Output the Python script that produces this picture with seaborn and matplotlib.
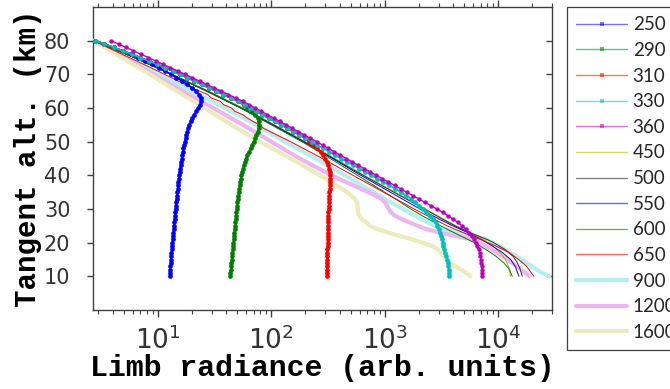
import numpy as np
import pandas as pd
import matplotlib
matplotlib.use("Agg")
import matplotlib.pyplot as plt
from matplotlib.lines import Line2D
from matplotlib.ticker import FixedLocator, LogLocator, NullFormatter
import seaborn as sns

# ---------------------------------------------------------------------------
# Data: log10 of limb radiance (arb. units) versus tangent altitude (km)
# ---------------------------------------------------------------------------

# UV channels are sampled every km from 80 km down to 10 km
alt_fine = list(range(80, 9, -1))

log_250 = [0.45, 0.53, 0.61, 0.69, 0.76, 0.83, 0.89, 0.95, 1.01, 1.065,
           1.115, 1.165, 1.215, 1.26, 1.305, 1.34, 1.365, 1.378, 1.38, 1.372,
           1.355, 1.338, 1.322, 1.305, 1.29, 1.277, 1.268, 1.26, 1.252, 1.245,
           1.238, 1.232, 1.226, 1.221, 1.216, 1.211, 1.206, 1.202, 1.197, 1.193,
           1.189, 1.185, 1.181, 1.178, 1.175, 1.172, 1.169, 1.166, 1.163, 1.16,
           1.157, 1.154, 1.151, 1.148, 1.145, 1.142, 1.139, 1.136, 1.133, 1.131,
           1.128, 1.126, 1.123, 1.121, 1.118, 1.116, 1.114, 1.112, 1.11, 1.108,
           1.106]

log_290 = [0.45, 0.53, 0.61, 0.69, 0.77, 0.845, 0.92, 0.995, 1.065, 1.13,
           1.195, 1.259, 1.323, 1.386, 1.45, 1.514, 1.578, 1.641, 1.705, 1.759,
           1.79, 1.83, 1.86, 1.88, 1.888, 1.89, 1.888, 1.88, 1.87, 1.858,
           1.845, 1.832, 1.818, 1.803, 1.789, 1.777, 1.767, 1.758, 1.75, 1.743,
           1.737, 1.731, 1.726, 1.721, 1.717, 1.713, 1.709, 1.705, 1.702, 1.699,
           1.696, 1.693, 1.69, 1.687, 1.684, 1.681, 1.678, 1.675, 1.672, 1.669,
           1.666, 1.663, 1.66, 1.657, 1.654, 1.651, 1.648, 1.645, 1.642, 1.639,
           1.636]

log_310 = [0.45, 0.53, 0.61, 0.69, 0.77, 0.845, 0.92, 0.995, 1.065, 1.13,
           1.195, 1.259, 1.323, 1.386, 1.45, 1.514, 1.578, 1.641, 1.705, 1.759,
           1.814, 1.868, 1.922, 1.976, 2.031, 2.085, 2.139, 2.193, 2.247, 2.301,
           2.33, 2.37, 2.405, 2.435, 2.46, 2.478, 2.492, 2.503, 2.511, 2.516,
           2.519, 2.52, 2.519, 2.517, 2.515, 2.513, 2.511, 2.509, 2.507, 2.506,
           2.505, 2.504, 2.503, 2.502, 2.501, 2.5, 2.499, 2.498, 2.497, 2.497,
           2.496, 2.496, 2.495, 2.495, 2.494, 2.494, 2.493, 2.493, 2.492, 2.492,
           2.491]

log_330 = [0.45, 0.53, 0.61, 0.69, 0.77, 0.845, 0.92, 0.995, 1.065, 1.13,
           1.195, 1.259, 1.323, 1.386, 1.45, 1.514, 1.578, 1.641, 1.705, 1.759,
           1.814, 1.868, 1.922, 1.976, 2.031, 2.085, 2.139, 2.193, 2.247, 2.301,
           2.355, 2.407, 2.459, 2.511, 2.563, 2.615, 2.668, 2.722, 2.775, 2.828,
           2.882, 2.935, 2.988, 3.042, 3.095, 3.145, 3.19, 3.232, 3.27, 3.305,
           3.337, 3.367, 3.397, 3.425, 3.448, 3.465, 3.478, 3.488, 3.496, 3.503,
           3.51, 3.516, 3.522, 3.53, 3.539, 3.549, 3.556, 3.562, 3.566, 3.569,
           3.571]

log_360 = [0.59, 0.655, 0.72, 0.785, 0.85, 0.915, 0.98, 1.045, 1.11, 1.175,
           1.24, 1.304, 1.368, 1.431, 1.495, 1.559, 1.623, 1.686, 1.75, 1.804,
           1.859, 1.913, 1.967, 2.021, 2.076, 2.13, 2.184, 2.238, 2.292, 2.346,
           2.40, 2.452, 2.504, 2.556, 2.608, 2.66, 2.713, 2.767, 2.82, 2.873,
           2.927, 2.98, 3.033, 3.087, 3.14, 3.193, 3.247, 3.30, 3.353, 3.407,
           3.46, 3.51, 3.558, 3.603, 3.645, 3.682, 3.714, 3.742, 3.766, 3.786,
           3.803, 3.817, 3.828, 3.837, 3.844, 3.849, 3.853, 3.856, 3.858, 3.859,
           3.86]

# visible / near-IR channels, sampled more coarsely
alt_450 = [80, 75, 70, 65, 60, 55, 50, 45, 40, 35, 30, 27, 25, 23, 21, 19, 17, 15, 13, 10]
log_450 = [0.44, 0.80, 1.13, 1.45, 1.75, 2.03, 2.30, 2.56, 2.82, 3.09, 3.36, 3.52,
           3.63, 3.75, 3.87, 3.95, 4.02, 4.065, 4.09, 4.11]

alt_500 = [80, 75, 70, 65, 60, 55, 50, 45, 40, 35, 30, 27, 25, 23, 21, 20, 18, 16, 14, 12, 10]
log_500 = [0.43, 0.79, 1.12, 1.44, 1.74, 2.02, 2.29, 2.55, 2.81, 3.08, 3.35, 3.51,
           3.62, 3.75, 3.90, 3.96, 4.06, 4.13, 4.17, 4.195, 4.213]

alt_550 = [80, 75, 70, 65, 60, 55, 50, 45, 40, 35, 30, 27, 25, 23, 21, 19, 17, 15, 13, 10]
log_550 = [0.44, 0.79, 1.12, 1.43, 1.73, 2.01, 2.28, 2.54, 2.79, 3.05, 3.31, 3.48,
           3.60, 3.73, 3.85, 3.95, 4.04, 4.11, 4.15, 4.183]

alt_600 = [80, 75, 70, 65, 60, 55, 50, 45, 40, 35, 32, 30, 28, 26, 24, 22, 20, 18, 16, 14, 12, 10]
log_600 = [0.44, 0.79, 1.12, 1.43, 1.73, 2.0, 2.27, 2.52, 2.76, 3.0, 3.14, 3.23,
           3.33, 3.44, 3.55, 3.67, 3.79, 3.89, 3.98, 4.05, 4.10, 4.124]

alt_650 = [80, 77, 74, 71, 68, 66, 64, 63, 62, 61, 60, 59, 58, 57, 56, 55, 54, 52,
           50, 45, 40, 35, 30, 25, 23, 21, 19, 17, 15, 13, 10]
log_650 = [0.43, 0.62, 0.81, 1.00, 1.18, 1.30, 1.44, 1.47, 1.55, 1.58, 1.65, 1.68,
           1.75, 1.79, 1.84, 1.90, 1.93, 2.05, 2.17, 2.45, 2.72, 2.99, 3.26, 3.55,
           3.69, 3.84, 3.98, 4.10, 4.18, 4.25, 4.315]

alt_900 = [80, 75, 70, 65, 60, 55, 50, 45, 40, 35, 30, 28, 26, 25, 24, 23, 22, 21,
           20, 18, 16, 14, 12, 11, 10]
log_900 = [0.43, 0.72, 1.01, 1.30, 1.59, 1.87, 2.12, 2.39, 2.65, 2.90, 3.16, 3.27,
           3.38, 3.44, 3.52, 3.64, 3.78, 3.89, 3.95, 4.06, 4.16, 4.25, 4.34, 4.39, 4.45]

alt_1200 = [80, 75, 70, 65, 60, 55, 50, 45, 40, 38, 36, 34, 33, 32, 31, 30, 29, 28,
            27, 26, 25, 24, 23, 22, 21, 20, 19, 18, 17, 15, 13, 11, 10]
log_1200 = [0.44, 0.70, 0.96, 1.22, 1.49, 1.75, 2.0, 2.25, 2.53, 2.66, 2.79, 2.92,
            2.97, 3.0, 3.02, 3.035, 3.055, 3.09, 3.15, 3.22, 3.29, 3.37, 3.49, 3.62,
            3.77, 3.84, 3.89, 3.94, 3.99, 4.08, 4.165, 4.24, 4.275]

alt_1600 = [80, 75, 70, 65, 60, 55, 50, 45, 40, 35, 33, 32, 31, 30, 29, 28, 27, 26,
            25, 24, 23, 22, 21, 20, 19, 18, 17, 16, 15, 14, 13, 12, 11, 10]
log_1600 = [0.44, 0.68, 0.93, 1.17, 1.41, 1.65, 1.90, 2.17, 2.43, 2.67, 2.74, 2.755,
            2.76, 2.765, 2.765, 2.775, 2.80, 2.84, 2.87, 2.94, 3.03, 3.13, 3.24, 3.33,
            3.42, 3.47, 3.495, 3.515, 3.54, 3.58, 3.62, 3.67, 3.72, 3.756]

wavelengths = ["250", "290", "310", "330", "360", "450", "500", "550",
               "600", "650", "900", "1200", "1600"]

y_ticks = [10, 20, 30, 40, 50, 60, 70, 80]
x_ticks = [10, 100, 1000, 10000]
x_tick_labels = [r"$\mathregular{10^{1}}$", r"$\mathregular{10^{2}}$",
                 r"$\mathregular{10^{3}}$", r"$\mathregular{10^{4}}$"]

# ---------------------------------------------------------------------------
# Styling of each channel
# ---------------------------------------------------------------------------
series = {
    "250": (alt_fine, log_250, dict(color="#0000ff", lw=1.2, marker="o", ms=3.4)),
    "290": (alt_fine, log_290, dict(color="#008000", lw=1.2, marker="o", ms=3.4)),
    "310": (alt_fine, log_310, dict(color="#ff0000", lw=1.2, marker="o", ms=3.4)),
    "330": (alt_fine, log_330, dict(color="#00bfbf", lw=1.2, marker="o", ms=3.4)),
    "360": (alt_fine, log_360, dict(color="#bf00bf", lw=1.0, marker="o", ms=3.2)),
    "450": (alt_450, log_450, dict(color="#bfbf00", lw=0.8)),
    "500": (alt_500, log_500, dict(color="#303030", lw=0.7)),
    "550": (alt_550, log_550, dict(color="#0000ff", lw=0.7)),
    "600": (alt_600, log_600, dict(color="#008000", lw=0.7)),
    "650": (alt_650, log_650, dict(color="#ff0000", lw=0.7)),
    "900": (alt_900, log_900, dict(color="#b4eeee", lw=3.0)),
    "1200": (alt_1200, log_1200, dict(color="#eeb6ee", lw=3.0)),
    "1600": (alt_1600, log_1600, dict(color="#ecebbc", lw=3.0)),
}

sns.set_style("white")
plt.rcParams["font.family"] = ["Lato", "DejaVu Sans"]
plt.rcParams["axes.edgecolor"] = "#404040"
plt.rcParams["axes.linewidth"] = 1.0

W, H = 670, 389
fig = plt.figure(figsize=(W / 100, H / 100), dpi=100)
ax = fig.add_axes([92.7 / W, 1 - 310 / H, (552.3 - 92.7) / W, (310 - 7) / H])
ax.set_xscale("log")

# broad pale near-IR curves go underneath, the rest on top
draw_order = ["900", "1200", "1600", "450", "500", "550", "600", "650",
              "250", "290", "310", "330", "360"]
for i, key in enumerate(draw_order):
    alts, logs, style = series[key]
    frame = pd.DataFrame({"radiance": 10.0 ** np.asarray(logs), "altitude": alts})
    kw = dict(color=style["color"], linewidth=style["lw"])
    if "marker" in style:
        kw.update(marker=style["marker"], markersize=style["ms"],
                  markeredgewidth=0, markerfacecolor=style["color"])
    sns.lineplot(data=frame, x="radiance", y="altitude", sort=False,
                 estimator=None, ax=ax, legend=False, zorder=2 + i, **kw)

ax.set_xlim(2.67, 3.0e4)
ax.set_ylim(0, 90)

tick_color = "#333333"
tick_family = ["DejaVu Sans"]

# y ticks (left, outward)
ax.set_yticks(y_ticks, labels=[str(v) for v in y_ticks])
ax.tick_params(axis="y", which="major", direction="out", length=4, width=1,
               color="#404040", pad=12, left=True, right=False,
               labelsize=15, labelcolor=tick_color)

# x ticks, log decades plus minor ticks on bottom and top
ax.set_xticks(x_ticks, labels=x_tick_labels)
ax.xaxis.set_minor_locator(LogLocator(base=10, subs=np.arange(2, 10), numticks=20))
ax.xaxis.set_minor_formatter(NullFormatter())
ax.tick_params(axis="x", which="major", direction="out", length=5, width=1,
               color="#404040", pad=7, top=True, bottom=True,
               labelsize=19, labelcolor=tick_color)
ax.tick_params(axis="x", which="minor", direction="out", length=3, width=0.8,
               color="#404040", top=True, bottom=True)
for lab in ax.get_xticklabels() + ax.get_yticklabels():
    lab.set_fontfamily(tick_family)

# right-hand ticks point inwards
sec = ax.secondary_yaxis("right")
sec.yaxis.set_major_locator(FixedLocator(y_ticks))
sec.tick_params(direction="in", length=4, width=1, color="#404040", labelright=False)
sec.spines["right"].set_visible(False)

label_font = dict(family=["Liberation Mono", "DejaVu Sans Mono"], weight="bold",
                  color="black")
ax.set_xlabel("Limb radiance (arb. units)", fontdict=dict(size=21.5, **label_font),
              labelpad=-1)
ax.set_ylabel("Tangent alt. (km)", fontdict=dict(size=21, **label_font), labelpad=1.4)

# legend
handles = []
for key in wavelengths:
    _, _, style = series[key]
    if "marker" in style:
        h = Line2D([], [], color=style["color"], lw=1.0, alpha=0.55, marker="s",
                   ms=2.5, markerfacecolor=style["color"], markeredgewidth=0)
    elif style["lw"] > 1:
        h = Line2D([], [], color=style["color"], lw=style["lw"])
    else:
        h = Line2D([], [], color=style["color"], lw=1.0, alpha=0.6)
    handles.append(h)
leg = fig.legend(handles, wavelengths, loc="upper left",
                 bbox_to_anchor=(567 / W, 1 - 7 / H), frameon=True, fancybox=False,
                 edgecolor="#404040", framealpha=1, borderaxespad=0, numpoints=1,
                 prop=dict(family=["Lato", "DejaVu Sans"], size=13.5),
                 handlelength=2.7, handletextpad=0.3, borderpad=0.5,
                 labelspacing=0.46)
leg.get_frame().set_linewidth(0.9)

fig.savefig("out.png", dpi=100)
